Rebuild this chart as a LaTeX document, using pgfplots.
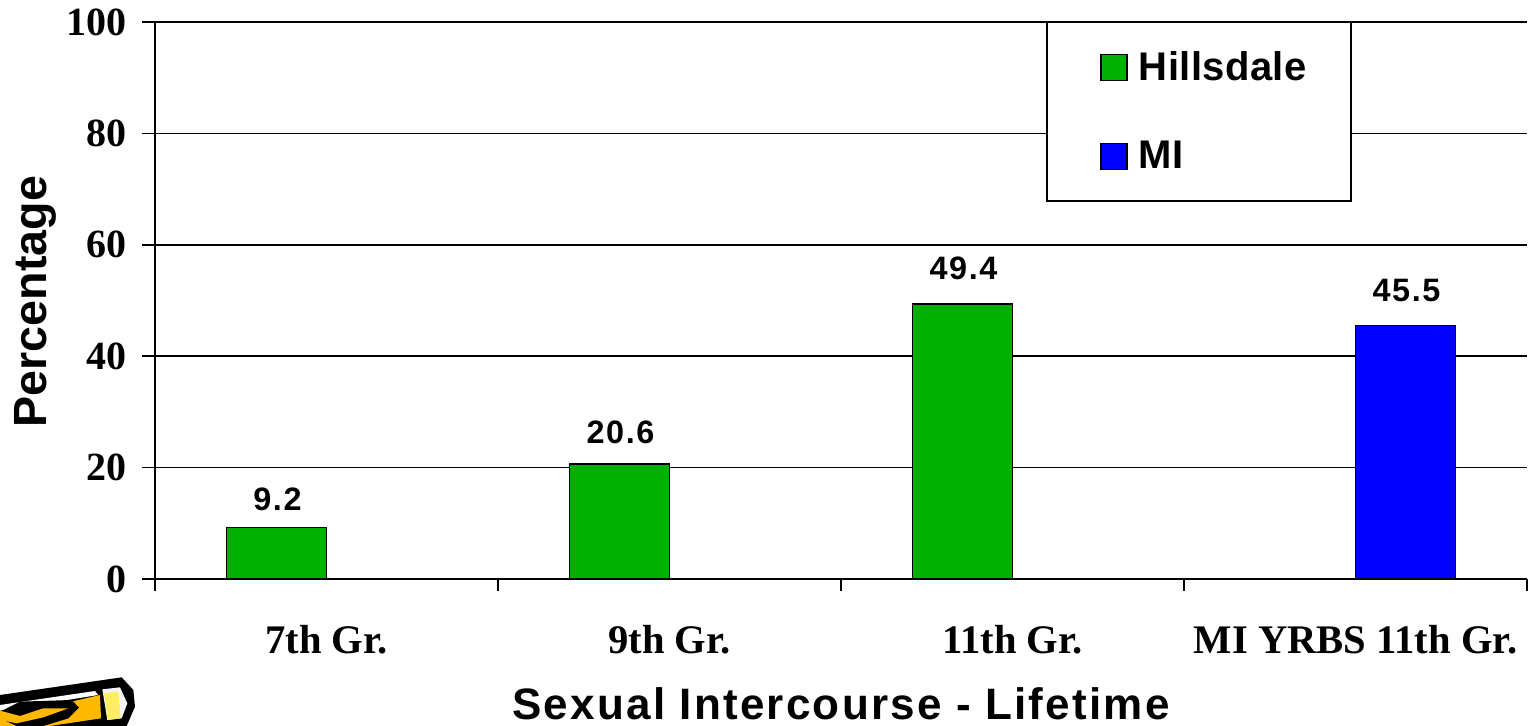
\documentclass[border=0pt]{standalone}
\usepackage{fontspec}
\setmainfont{Liberation Serif}
\newfontfamily\arialf{Liberation Sans}
\newfontfamily\arialw[LetterSpace=5.1]{Liberation Sans}
\newfontfamily\ariald[LetterSpace=5]{Liberation Sans}
\newfontfamily\ariall[LetterSpace=1]{Liberation Sans}
\usepackage{pgfplots}
\pgfplotsset{compat=1.18}
\definecolor{hgreen}{RGB}{0,176,0}
\definecolor{mblue}{RGB}{0,0,255}
\definecolor{pencilo}{RGB}{255,184,0}
\definecolor{pencily}{RGB}{255,238,100}
\begin{document}
\begin{tikzpicture}[x=1pt,y=1pt]
\useasboundingbox (0,0) rectangle (765,363);
% pencil clip art (decoration)
\begin{scope}[shift={(0,43)},x=0.16667pt,y=-0.16667pt]
\fill[black] (0,165)--(365,112)--(400,150)--(405,200)--(380,258)--(0,258)--cycle;
\fill[white] (0,195)--(285,153)--(295,165)--(0,212)--cycle;
\fill[pencilo] (0,235)--(300,165)--(303,235)--(150,258)--(0,258)--cycle;
\fill[black] (0,215)--(60,185)--(215,180)--(237,203)--(205,235)--(130,258)--(50,258)--(0,235)--cycle;
\fill[pencilo] (0,212)--(60,228)--(130,205)--(205,205)--(130,232)--(50,250)--(0,240)--cycle;
\fill[black!4] (307,148)--(360,142)--(382,190)--(365,235)--(322,240)--cycle;
\fill[pencily] (312,160)--(355,155)--(362,235)--(322,240)--(318,200)--cycle;
\end{scope}
\begin{axis}[
  at={(77.5pt,73.5pt)}, anchor=south west,
  scale only axis, width=686pt, height=278.5pt,
  xmin=-0.5, xmax=3.5, ymin=0, ymax=100,
  axis lines=left, axis line style={-, line width=0.9pt, black},
  ybar, bar width=50pt,
  ytick={0,20,40,60,80,100},
  ymajorgrids, grid style={black, line width=0.8pt},
  xtick={0,1,2,3},
  xticklabels={7th Gr.,9th Gr.,11th Gr.,MI YRBS 11th Gr.},
  major x tick style={draw=none},
  minor xtick={-0.5,0.5,1.5,2.5,3.5},
  minor tick length=6pt,
  major tick length=6.5pt,
  tick align=outside,
  tick style={black, line width=0.75pt},
  minor x tick style={black, line width=0.75pt},
  xticklabel style={font=\fontsize{20.3}{22}\selectfont\bfseries, yshift=-13pt},
  yticklabel style={font=\fontsize{20}{22}\selectfont\bfseries, xshift=-4pt},
  /pgf/number format/assume math mode=true,
  ylabel={\arialf\bfseries Percentage},
  ylabel style={font=\fontsize{23.3}{25}\selectfont, at={(axis description cs:-0.0868,0.498)}, anchor=center, rotate=0},
  xlabel={\arialw\bfseries Sexual Intercourse - Lifetime},
  xlabel style={font=\fontsize{22}{24}\selectfont, at={(axis description cs:0.5,-0.2241)}, anchor=center},
  nodes near coords,
  every node near coord/.append style={font=\ariald\bfseries\fontsize{16.2}{18}\selectfont, xshift=0.5pt, black},
  legend style={at={(0.6494,1.0009)}, anchor=north west, draw=black, line width=1pt, fill=white,
    font=\ariall\bfseries\fontsize{20}{22}\selectfont, inner xsep=20pt, inner ysep=12.5pt, row sep=25pt,
    /tikz/every even column/.append style={column sep=0pt}},
  legend cell align=left,
  legend image code/.code={\path[draw=none,fill=none] (0pt,0pt)--(24pt,0pt); \draw[#1, draw=black, line width=0.6pt] (7pt,-6.5pt) rectangle (20pt,6.5pt);},
]
\addplot[fill=hgreen, draw=black, line width=0.75pt, bar shift=-25pt, every node near coord/.append style={yshift=5pt}] coordinates {(0,9.2)};
\addlegendentry{Hillsdale}
\addplot[fill=hgreen, draw=black, line width=0.75pt, bar shift=-25pt, forget plot, every node near coord/.append style={yshift=6.5pt}] coordinates {(1,20.6)};
\addplot[fill=hgreen, draw=black, line width=0.75pt, bar shift=-25pt, forget plot, every node near coord/.append style={yshift=8.5pt}] coordinates {(2,49.4)};
\addplot[fill=mblue, draw=black, line width=0.75pt, bar shift=25pt, every node near coord/.append style={yshift=8pt}] coordinates {(3,45.5)};
\addlegendentry{MI}
\end{axis}
\end{tikzpicture}
\end{document}
